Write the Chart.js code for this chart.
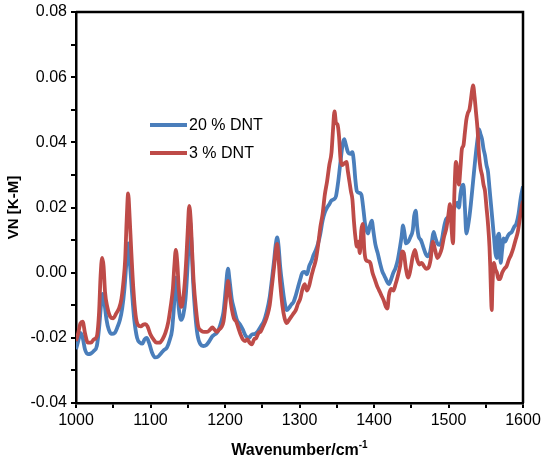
<!DOCTYPE html>
<html>
<head>
<meta charset="utf-8">
<script src="https://cdn.jsdelivr.net/npm/chart.js@4/dist/chart.umd.min.js"></script>
<style>
  html, body { margin: 0; padding: 0; background: #fff; }
  canvas { display: block; }
</style>
</head>
<body>
<canvas id="spectrum" width="544" height="464" style="width:544px;height:464px"></canvas>
<script>
// 20 % DNT (blue)
const wn20 = [1000,1003,1006,1009,1012,1016,1020,1024,1028,1031,1034,1036,1038,1041,1044,1048,1052,1056,1059,1062,1065,1068,1070,1072,1075,1078,1082,1086,1089,1092,1095,1098,1102,1106,1110,1114,1118,1122,1126,1129,1131,1133,1134,1136,1138,1141,1144,1147,1150,1152,1153,1155,1157,1160,1163,1167,1171,1175,1179,1183,1186,1189,1192,1195,1198,1201,1203,1204,1206,1209,1212,1216,1220,1224,1228,1232,1236,1240,1244,1248,1252,1256,1260,1263,1266,1268,1270,1272,1274,1277,1280,1283,1286,1289,1292,1295,1298,1301,1304,1307,1310,1313,1316,1319,1322,1325,1328,1331,1334,1337,1340,1343,1346,1349,1352,1355,1358,1360,1362,1365,1368,1371,1373,1375,1377,1380,1383,1386,1388,1390,1392,1394,1397,1399,1402,1405,1408,1411,1414,1417,1420,1423,1426,1429,1432,1435,1437,1439,1441,1443,1446,1449,1452,1454,1456,1458,1460,1463,1466,1469,1472,1475,1478,1480,1482,1485,1488,1491,1494,1497,1500,1503,1506,1509,1512,1514,1516,1518,1520,1522,1524,1526,1528,1530,1533,1536,1539,1541,1543,1545,1547,1549,1551,1553,1555,1557,1559,1561,1563,1565,1566,1568,1570,1572,1574,1576,1579,1582,1585,1588,1591,1594,1597,1600];
const dnt20 = [-0.0235,-0.021,-0.0185,-0.020,-0.0235,-0.025,-0.0248,-0.024,-0.0225,-0.017,-0.009,-0.0065,-0.009,-0.0145,-0.0175,-0.0188,-0.0185,-0.0165,-0.0145,-0.011,-0.005,0.004,0.009,0.004,-0.0055,-0.014,-0.020,-0.0215,-0.0218,-0.0205,-0.020,-0.0215,-0.0245,-0.026,-0.0258,-0.0248,-0.0238,-0.023,-0.0205,-0.0175,-0.012,-0.005,-0.0015,-0.005,-0.011,-0.0145,-0.013,-0.008,0.003,0.013,0.016,0.009,-0.002,-0.0125,-0.019,-0.022,-0.0225,-0.0222,-0.021,-0.0195,-0.019,-0.0185,-0.0172,-0.015,-0.012,-0.005,0.000,0.0012,-0.002,-0.008,-0.011,-0.0145,-0.0158,-0.0175,-0.0195,-0.020,-0.019,-0.0188,-0.018,-0.0165,-0.015,-0.012,-0.0075,-0.002,0.004,0.0085,0.0108,0.008,0.002,-0.004,-0.009,-0.0115,-0.0108,-0.0098,-0.009,-0.007,-0.0045,-0.002,0.000,0.0002,-0.0005,0.002,0.0035,0.0055,0.007,0.009,0.012,0.016,0.0185,0.020,0.021,0.0222,0.0225,0.0235,0.028,0.034,0.0395,0.041,0.0395,0.037,0.0365,0.037,0.034,0.0285,0.025,0.0245,0.024,0.019,0.015,0.013,0.012,0.014,0.016,0.013,0.0085,0.006,0.003,0.0005,-0.001,-0.0025,-0.0035,-0.002,0.000,0.0015,0.004,0.008,0.011,0.0145,0.012,0.009,0.0095,0.011,0.013,0.0175,0.019,0.014,0.011,0.010,0.008,0.006,0.005,0.006,0.010,0.0125,0.011,0.009,0.0085,0.010,0.014,0.0165,0.017,0.018,0.019,0.0205,0.0215,0.020,0.024,0.0265,0.027,0.020,0.012,0.014,0.017,0.021,0.028,0.035,0.041,0.044,0.0425,0.041,0.038,0.036,0.033,0.031,0.026,0.021,0.016,0.011,0.006,0.0045,0.011,0.012,0.003,0.007,0.0105,0.0095,0.011,0.012,0.0125,0.014,0.015,0.018,0.023,0.0265];

// 3 % DNT (red)
const wn3 = [1000,1003,1006,1009,1012,1016,1020,1024,1028,1031,1033,1035,1037,1039,1042,1046,1050,1054,1058,1061,1064,1066,1068,1070,1072,1074,1077,1080,1083,1087,1090,1093,1096,1100,1104,1108,1112,1116,1120,1124,1127,1130,1132,1134,1136,1138,1141,1143,1146,1148,1150,1152,1154,1156,1158,1161,1164,1168,1172,1176,1180,1183,1186,1189,1192,1195,1198,1201,1203,1204,1206,1209,1212,1215,1218,1221,1224,1227,1230,1233,1236,1239,1242,1245,1248,1251,1254,1257,1260,1263,1266,1268,1270,1272,1274,1277,1280,1283,1286,1289,1292,1295,1298,1301,1304,1307,1310,1313,1316,1319,1322,1325,1328,1331,1334,1337,1340,1343,1345,1347,1349,1351,1353,1355,1357,1360,1363,1365,1367,1369,1371,1373,1375,1377,1379,1381,1383,1385,1387,1389,1392,1395,1398,1401,1404,1407,1410,1413,1416,1418,1420,1423,1426,1429,1432,1435,1438,1440,1443,1446,1449,1452,1455,1458,1461,1464,1467,1470,1473,1476,1479,1482,1485,1488,1491,1494,1497,1500,1502,1504,1506,1508,1510,1512,1514,1516,1518,1520,1522,1524,1526,1528,1530,1532,1533,1535,1537,1539,1541,1543,1545,1547,1549,1551,1553,1555,1556,1557,1558,1559,1561,1563,1565,1567,1569,1572,1575,1578,1581,1584,1587,1590,1593,1596,1598,1600];
const dnt3 = [-0.021,-0.0185,-0.0155,-0.015,-0.0185,-0.0215,-0.0215,-0.0205,-0.0195,-0.012,-0.001,0.0045,0.002,-0.006,-0.0105,-0.0135,-0.014,-0.0125,-0.0108,-0.008,-0.002,0.004,0.016,0.0243,0.017,0.0075,-0.005,-0.013,-0.016,-0.0165,-0.016,-0.0158,-0.0165,-0.019,-0.0205,-0.0215,-0.0215,-0.0205,-0.0185,-0.015,-0.0105,-0.005,0.002,0.007,0.003,-0.005,-0.0105,-0.0095,-0.003,0.004,0.013,0.0205,0.016,0.006,-0.003,-0.011,-0.0165,-0.0178,-0.0182,-0.0182,-0.0175,-0.0168,-0.0175,-0.0182,-0.0175,-0.0168,-0.015,-0.009,-0.004,-0.0025,-0.006,-0.011,-0.014,-0.015,-0.017,-0.019,-0.0205,-0.021,-0.0205,-0.0215,-0.022,-0.0205,-0.020,-0.0185,-0.018,-0.0165,-0.015,-0.013,-0.010,-0.004,0.002,0.0065,0.0088,0.004,-0.003,-0.010,-0.014,-0.0155,-0.0145,-0.0135,-0.0125,-0.0115,-0.0095,-0.008,-0.005,-0.0035,-0.0055,-0.004,-0.001,0.0015,0.004,0.0085,0.014,0.018,0.024,0.028,0.033,0.037,0.044,0.0495,0.046,0.0455,0.042,0.035,0.033,0.0335,0.034,0.031,0.028,0.025,0.0225,0.016,0.011,0.008,0.0095,0.006,0.013,0.015,0.007,0.004,0.0035,0.003,0.000,-0.002,-0.004,-0.0055,-0.007,-0.0085,-0.0105,-0.011,-0.007,-0.005,-0.0055,-0.0035,-0.001,0.002,0.0065,0.006,0.001,-0.0015,0.001,0.005,0.007,0.004,0.0025,0.003,0.002,0.0012,0.0015,0.004,0.0095,0.007,0.0045,0.0055,0.0075,0.011,0.0135,0.018,0.021,0.014,0.009,0.025,0.034,0.031,0.027,0.032,0.038,0.039,0.043,0.047,0.049,0.050,0.053,0.0565,0.0575,0.054,0.049,0.044,0.036,0.032,0.030,0.027,0.025,0.020,0.015,0.008,0.002,-0.006,-0.0115,-0.004,0.003,0.001,0.000,-0.002,-0.002,0.000,0.0012,0.002,0.004,0.0055,0.0075,0.010,0.0125,0.017,0.020,0.022];

const seriesNames = ["20 % DNT", "3 % DNT"];
const seriesColors = ["#4a7ebb", "#be4b48"];

const xTicks = [1000, 1100, 1200, 1300, 1400, 1500, 1600];
const yTicks = [-0.04, -0.02, 0.00, 0.02, 0.04, 0.06, 0.08];

function toPoints(xs, ys) {
    return xs.map((x, i) => ({ x: x, y: ys[i] }));
}

// frame, legend and the x title with a superscript
const decorations = {
    id: "decorations",
    afterDraw(chart) {
        const ctx = chart.ctx;
        const a = chart.chartArea;
        ctx.save();
        ctx.strokeStyle = "#000";
        ctx.lineWidth = 2.5;
        ctx.beginPath();
        ctx.moveTo(a.left, a.top);
        ctx.lineTo(a.right, a.top);
        ctx.lineTo(a.right, a.bottom);
        ctx.stroke();

        // legend
        const rows = [125, 153];
        ctx.font = "16px 'Liberation Sans', Arial, sans-serif";
        ctx.textBaseline = "middle";
        ctx.textAlign = "left";
        rows.forEach((y, i) => {
            ctx.strokeStyle = seriesColors[i];
            ctx.lineWidth = 3.8;
            ctx.beginPath();
            ctx.moveTo(150, y);
            ctx.lineTo(187, y);
            ctx.stroke();
            ctx.fillStyle = "#000";
            ctx.fillText(seriesNames[i], 189, y + 1);
        });

        // x title
        const main = "Wavenumber/cm";
        const sup = "-1";
        ctx.font = "bold 16px 'Liberation Sans', Arial, sans-serif";
        const w1 = ctx.measureText(main).width;
        ctx.font = "bold 10px 'Liberation Sans', Arial, sans-serif";
        const w2 = ctx.measureText(sup).width;
        const x0 = (a.left + a.right) / 2 - (w1 + w2) / 2;
        ctx.textBaseline = "alphabetic";
        ctx.fillStyle = "#000";
        ctx.font = "bold 16px 'Liberation Sans', Arial, sans-serif";
        ctx.fillText(main, x0, 455);
        ctx.font = "bold 10px 'Liberation Sans', Arial, sans-serif";
        ctx.fillText(sup, x0 + w1, 448);
        ctx.restore();
    }
};

new Chart(document.getElementById("spectrum"), {
    type: "line",
    data: {
        datasets: [{
            label: seriesNames[0],
            data: toPoints(wn20, dnt20),
            borderColor: seriesColors[0],
            borderWidth: 3.8,
            pointRadius: 0,
            cubicInterpolationMode: "monotone",
            order: 2
        }, {
            label: seriesNames[1],
            data: toPoints(wn3, dnt3),
            borderColor: seriesColors[1],
            borderWidth: 3.8,
            pointRadius: 0,
            cubicInterpolationMode: "monotone",
            order: 1
        }]
    },
    options: {
        responsive: false,
        animation: false,
        layout: { padding: { top: 7, right: 21, left: 0, bottom: 0 } },
        plugins: {
            legend: { display: false },
            tooltip: { enabled: false }
        },
        scales: {
            x: {
                type: "linear",
                min: 1000,
                max: 1600,
                border: { color: "#000", width: 2.5 },
                grid: { drawOnChartArea: false, color: "#000", lineWidth: 2, tickLength: 5 },
                ticks: {
                    stepSize: 50,
                    autoSkip: false,
                    maxRotation: 0,
                    color: "#000",
                    padding: 3,
                    font: { size: 16, family: "'Liberation Sans', Arial, sans-serif" },
                    callback: v => xTicks.includes(v) ? String(v) : ""
                },
                afterFit: s => { s.height = 61; }
            },
            y: {
                min: -0.04,
                max: 0.08,
                border: { color: "#000", width: 2.5 },
                grid: { drawOnChartArea: false, color: "#000", lineWidth: 2, tickLength: 5 },
                ticks: {
                    stepSize: 0.01,
                    autoSkip: false,
                    color: "#000",
                    padding: 4,
                    font: { size: 16, lineHeight: 1, family: "'Liberation Sans', Arial, sans-serif" },
                    callback: v => {
                        const r = Math.round(v * 100) / 100;
                        return yTicks.some(t => Math.abs(t - r) < 1e-9) ? (Math.abs(r) < 1e-9 ? 0 : r).toFixed(2) : "";
                    }
                },
                title: {
                    display: true,
                    text: "VN [K-M]",
                    color: "#000",
                    padding: { top: 5, bottom: 0 },
                    font: { size: 15, weight: "bold", family: "'Liberation Sans', Arial, sans-serif" }
                },
                afterFit: s => { s.width = 76; }
            }
        }
    },
    plugins: [decorations]
});
</script>
</body>
</html>
